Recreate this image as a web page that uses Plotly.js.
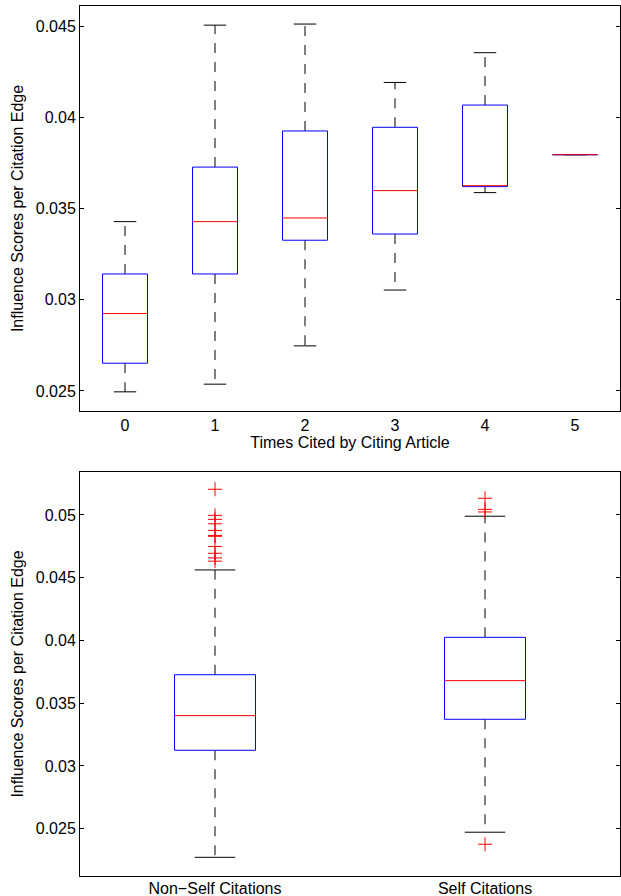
<!DOCTYPE html>
<html>
<head>
<meta charset="utf-8">
<script src="https://cdn.plot.ly/plotly-3.0.1.min.js"></script>
<style>html,body{margin:0;padding:0;background:#fff;}#chart{width:621px;height:896px;}</style>
</head>
<body>
<div id="chart"></div>
<script>
// ---- Top panel: Times Cited by Citing Article ----
const topCats = [0, 1, 2, 3, 4, 5];
const topLower = [0.02495, 0.02537, 0.02747, 0.03053, 0.03587, 0.03795];
const topQ1 = [0.02652, 0.03141, 0.03326, 0.03360, 0.03620, 0.03795];
const topMedian = [0.02924, 0.03428, 0.03448, 0.03598, 0.03625, 0.03795];
const topQ3 = [0.03141, 0.03727, 0.03925, 0.03945, 0.04067, 0.03795];
const topUpper = [0.03428, 0.04505, 0.04511, 0.04191, 0.04354, 0.03795];
const topTickVals = [0.025, 0.03, 0.035, 0.04, 0.045];
const topTickText = ['0.025', '0.03', '0.035', '0.04', '0.045'];

// ---- Bottom panel: Non-Self vs Self citations ----
const botCats = ['Non\u2212Self Citations', 'Self Citations'];
const botPos = [1, 2];
const botLower = [0.02272, 0.02472];
const botQ1 = [0.03125, 0.03372];
const botMedian = [0.03401, 0.03680];
const botQ3 = [0.03727, 0.04025];
const botUpper = [0.04562, 0.04990];
const nonSelfOutliers = [0.05205, 0.04997, 0.04965, 0.04930, 0.04877, 0.04837, 0.04830, 0.04749, 0.04695, 0.04658, 0.04632];
const selfOutliers = [0.05133, 0.05045, 0.05024, 0.02376];
const botTickVals = [0.025, 0.03, 0.035, 0.04, 0.045, 0.05];
const botTickText = ['0.025', '0.03', '0.035', '0.04', '0.045', '0.05'];

const FONT = 'Liberation Sans, Arial, Helvetica, sans-serif';

function panelTraces(pos, lower, q1, med, q3, upper, boxW, capW, xa, ya) {
  const bx = [], by = [], wx = [], wy = [], cx = [], cy = [], mx = [], my = [];
  pos.forEach((p, i) => {
    const l = p - boxW / 2, r = p + boxW / 2;
    bx.push(l, r, r, l, l, null);
    by.push(q1[i], q1[i], q3[i], q3[i], q1[i], null);
    wx.push(p, p, null, p, p, null);
    wy.push(q3[i], upper[i], null, q1[i], lower[i], null);
    cx.push(p - capW / 2, p + capW / 2, null, p - capW / 2, p + capW / 2, null);
    cy.push(upper[i], upper[i], null, lower[i], lower[i], null);
    mx.push(l, r, null);
    my.push(med[i], med[i], null);
  });
  return [
    {type: 'scatter', mode: 'lines', x: wx, y: wy, xaxis: xa, yaxis: ya,
      line: {color: '#000', width: 1, dash: '10px,9px'}, hoverinfo: 'skip'},
    {type: 'scatter', mode: 'lines', x: cx, y: cy, xaxis: xa, yaxis: ya,
      line: {color: '#000', width: 1}, hoverinfo: 'skip'},
    {type: 'scatter', mode: 'lines', x: bx, y: by, xaxis: xa, yaxis: ya,
      line: {color: '#0000ff', width: 1}, hoverinfo: 'skip'},
    {type: 'scatter', mode: 'lines', x: mx, y: my, xaxis: xa, yaxis: ya,
      line: {color: '#ff0000', width: 1}, hoverinfo: 'skip'}
  ];
}

let data = [];
data = data.concat(panelTraces(topCats, topLower, topQ1, topMedian, topQ3, topUpper, 0.5, 0.25, 'x', 'y'));
data = data.concat(panelTraces(botPos, botLower, botQ1, botMedian, botQ3, botUpper, 0.3, 0.15, 'x2', 'y2'));
const outlierMarker = {symbol: 'cross-thin-open', size: 10, color: '#ff0000', line: {color: '#ff0000', width: 1}};
data.push({type: 'scatter', mode: 'markers', x: nonSelfOutliers.map(() => botPos[0]), y: nonSelfOutliers,
  xaxis: 'x2', yaxis: 'y2', marker: outlierMarker, hoverinfo: 'skip'});
data.push({type: 'scatter', mode: 'markers', x: selfOutliers.map(() => botPos[1]), y: selfOutliers,
  xaxis: 'x2', yaxis: 'y2', marker: outlierMarker, hoverinfo: 'skip'});

const tickFont = {family: FONT, size: 16, color: '#000'};
const axisCommon = {showgrid: false, zeroline: false, showline: true, linecolor: '#000', linewidth: 1, mirror: 'ticks', tickfont: tickFont, fixedrange: true};

const layout = {
  width: 621, height: 896,
  margin: {l: 80, r: 1, t: 6, b: 20},
  paper_bgcolor: '#fff', plot_bgcolor: '#fff',
  showlegend: false,
  font: {family: FONT, color: '#000'},
  xaxis: Object.assign({}, axisCommon, {
    anchor: 'y', domain: [0, 1], range: [-0.5, 5.5], tickvals: topCats, ticktext: topCats.map(String), ticks: '',
    title: {text: 'Times Cited by Citing Article', font: {family: FONT, size: 16, color: '#000'}, standoff: 0}
  }),
  yaxis: Object.assign({}, axisCommon, {
    anchor: 'x', domain: [0.5345, 1], range: [0.0239, 0.0461], tickvals: topTickVals, ticktext: topTickText,
    ticks: 'inside', ticklen: 4, tickcolor: '#000',
    title: {text: 'Influence Scores per Citation Edge', font: {family: FONT, size: 16, color: '#000'}, standoff: 8}
  }),
  xaxis2: Object.assign({}, axisCommon, {
    anchor: 'y2', domain: [0, 1], range: [0.5, 2.5], tickvals: botPos, ticktext: botCats, ticks: '',
    ticklabelstandoff: -2
  }),
  yaxis2: Object.assign({}, axisCommon, {
    anchor: 'x2', domain: [0, 0.4644], range: [0.021231, 0.053427], tickvals: botTickVals, ticktext: botTickText,
    ticks: 'inside', ticklen: 4, tickcolor: '#000',
    title: {text: 'Influence Scores per Citation Edge', font: {family: FONT, size: 16, color: '#000'}, standoff: 8}
  })
};

Plotly.newPlot('chart', data, layout, {staticPlot: true, displayModeBar: false});
</script>
</body>
</html>
